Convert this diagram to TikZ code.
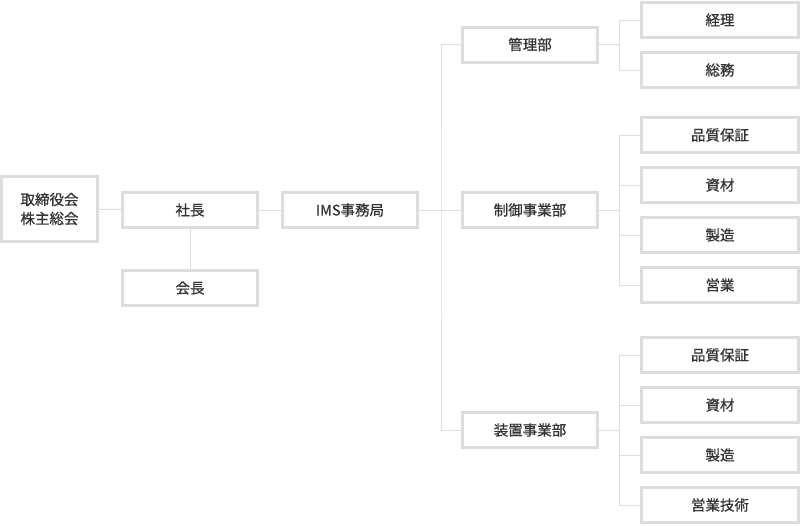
\documentclass[tikz,border=0pt]{standalone}
\usepackage{fontspec}
\setmainfont{Noto Sans CJK JP}[FakeBold=0.7]
\usetikzlibrary{positioning}
\definecolor{boxline}{HTML}{DDDDDD}
\definecolor{labeltext}{HTML}{333333}
\tikzset{
  orgbox/.style={draw=boxline, line width=3pt, fill=white, inner sep=0pt,
    minimum width=135pt, minimum height=35pt, text=labeltext,
    font=\fontsize{14.5}{19}\selectfont, align=center},
  unitbox/.style={orgbox, minimum width=157pt, minimum height=35pt},
  link/.style={draw=boxline, line width=1pt}
}
\begin{document}
\begin{tikzpicture}[x=1pt, y=-1pt]
	%%%%% START %%%%%
	\useasboundingbox[fill=white] (0, 0) rectangle (800, 525);
	
	\node[orgbox, minimum width=96pt, minimum height=65pt] (board) at (49.5, 209) {取締役会\\株主総会};
	\node[orgbox] (shacho) at (190, 210) {社長};
	\node[orgbox] (kaicho) at (190, 288) {会長};
	\node[orgbox] (ims) at (350, 210) {IMS事務局};
	
	\node[orgbox] (kanri) at (530, 44.5) {管理部};
	\node[orgbox] (seigyo) at (530, 210) {制御事業部};
	\node[orgbox] (sochi) at (530, 430) {装置事業部};
	
	\node[unitbox] (keiri) at (720, 20) {経理};
	\node[unitbox] (somu) at (720, 70) {総務};
	
	\node[unitbox] (seihin) at (720, 135) {品質保証};
	\node[unitbox] (seishi) at (720, 185) {資材};
	\node[unitbox] (seizo) at (720, 235) {製造};
	\node[unitbox] (seiei) at (720, 285) {営業};
	
	\node[unitbox] (sohin) at (720, 355) {品質保証};
	\node[unitbox] (soshi) at (720, 405) {資材};
	\node[unitbox] (sozo) at (720, 455) {製造};
	\node[unitbox] (soei) at (720, 505) {営業技術};
	
	\coordinate (trunk) at (441, 210);
	
	\draw[link] (board) -- (shacho);
	\draw[link] (shacho) -- (kaicho);
	\draw[link] (shacho) -- (ims);
	\draw[link] (ims) -- (trunk);
	\draw[link] (kanri.west) -| (trunk) |- (sochi.west);
	\draw[link] (trunk) -- (seigyo.west);
	
	\foreach \unit in {keiri, somu}
		\draw[link] (kanri.east) -- ++(20, 0) |- (\unit.west);
	\foreach \unit in {seihin, seishi, seizo, seiei}
		\draw[link] (seigyo.east) -- ++(20, 0) |- (\unit.west);
	\foreach \unit in {sohin, soshi, sozo, soei}
		\draw[link] (sochi.east) -- ++(20, 0) |- (\unit.west);
	%%%%% END %%%%%
\end{tikzpicture}
\end{document}
